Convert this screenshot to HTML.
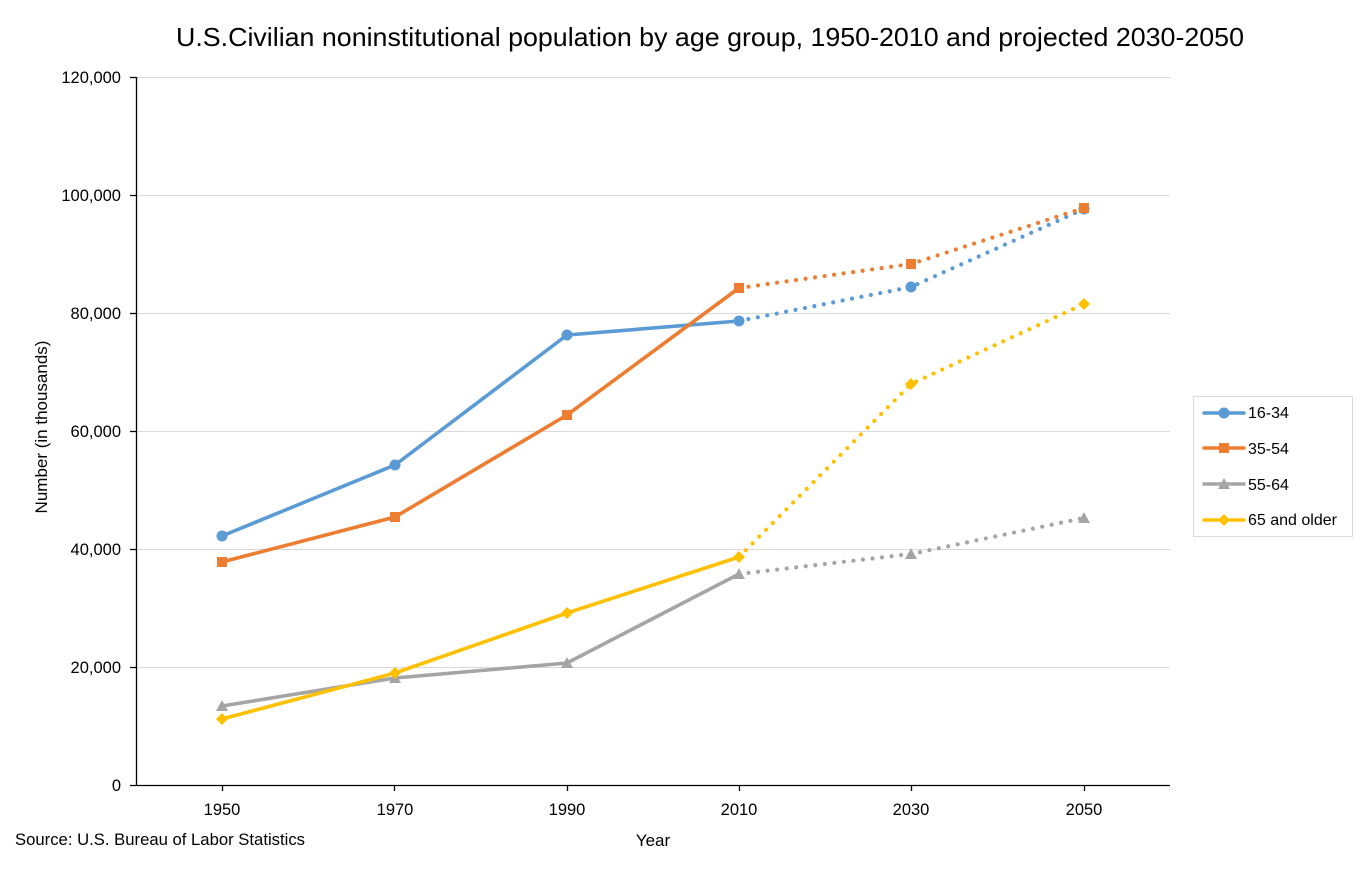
<!DOCTYPE html>
<html>
<head>
<meta charset="utf-8">
<style>
  html, body { margin:0; padding:0; background:#fff; }
  svg { display:block; }
  text { font-family: "Liberation Sans", "DejaVu Sans", sans-serif; fill:#000; }
</style>
</head>
<body>
<svg width="1365" height="879" viewBox="0 0 1365 879" xmlns="http://www.w3.org/2000/svg">
  <rect x="0" y="0" width="1365" height="879" fill="#fff"/>

  <!-- Title -->
  <text x="176" y="46" font-size="26" textLength="1068" lengthAdjust="spacingAndGlyphs">U.S.Civilian noninstitutional population by age group, 1950-2010 and projected 2030-2050</text>

  <!-- Gridlines -->
  <g stroke="#D9D9D9" stroke-width="1">
    <line x1="136" y1="77.5" x2="1170" y2="77.5"/>
    <line x1="136" y1="195.5" x2="1170" y2="195.5"/>
    <line x1="136" y1="313.5" x2="1170" y2="313.5"/>
    <line x1="136" y1="431.5" x2="1170" y2="431.5"/>
    <line x1="136" y1="549.5" x2="1170" y2="549.5"/>
    <line x1="136" y1="667.5" x2="1170" y2="667.5"/>
  </g>

  <!-- Axes -->
  <g stroke="#000" stroke-width="1.3">
    <line x1="136.5" y1="77" x2="136.5" y2="785"/>
    <line x1="130" y1="785.5" x2="1170" y2="785.5"/>
    <line x1="130" y1="77.5" x2="136" y2="77.5"/>
    <line x1="130" y1="195.5" x2="136" y2="195.5"/>
    <line x1="130" y1="313.5" x2="136" y2="313.5"/>
    <line x1="130" y1="431.5" x2="136" y2="431.5"/>
    <line x1="130" y1="549.5" x2="136" y2="549.5"/>
    <line x1="130" y1="667.5" x2="136" y2="667.5"/>
    <line x1="222.5" y1="785" x2="222.5" y2="791"/>
    <line x1="394.5" y1="785" x2="394.5" y2="791"/>
    <line x1="567.5" y1="785" x2="567.5" y2="791"/>
    <line x1="739.5" y1="785" x2="739.5" y2="791"/>
    <line x1="911.5" y1="785" x2="911.5" y2="791"/>
    <line x1="1084.5" y1="785" x2="1084.5" y2="791"/>
  </g>

  <!-- Y tick labels -->
  <g font-size="16.5" text-anchor="end">
    <text x="121" y="83">120,000</text>
    <text x="121" y="201">100,000</text>
    <text x="121" y="319">80,000</text>
    <text x="121" y="437">60,000</text>
    <text x="121" y="555">40,000</text>
    <text x="121" y="673">20,000</text>
    <text x="121" y="791">0</text>
  </g>

  <!-- X tick labels -->
  <g font-size="16.5" text-anchor="middle">
    <text x="222" y="815">1950</text>
    <text x="395" y="815">1970</text>
    <text x="567" y="815">1990</text>
    <text x="739" y="815">2010</text>
    <text x="911" y="815">2030</text>
    <text x="1084" y="815">2050</text>
  </g>

  <!-- Axis titles -->
  <text x="653" y="846" font-size="17" text-anchor="middle">Year</text>
  <text transform="translate(47,427) rotate(-90)" font-size="17" text-anchor="middle">Number (in thousands)</text>
  <text x="15" y="845" font-size="16.5" textLength="290" lengthAdjust="spacingAndGlyphs">Source: U.S. Bureau of Labor Statistics</text>

  <!-- Solid lines -->
  <g fill="none" stroke-width="3.6" stroke-linejoin="round" stroke-linecap="round">
    <polyline stroke="#5B9BD5" points="222,536 395,465 567,335 739,321"/>
    <polyline stroke="#ED7D31" points="222,562 395,517 567,415 739,288"/>
    <polyline stroke="#A5A5A5" points="222,706 395,678 567,663 739,574"/>
    <polyline stroke="#FFC000" points="222,719 395,673 567,613 739,557"/>
  </g>

  <!-- Dotted projected lines -->
  <g fill="none" stroke-width="4.2" stroke-linecap="round" stroke-dasharray="0 9.6">
    <polyline stroke="#5B9BD5" points="739,321 911,287 1084,209"/>
    <polyline stroke="#ED7D31" points="739,288 911,264 1084,208"/>
    <polyline stroke="#A5A5A5" points="739,574 911,554 1084,518"/>
    <polyline stroke="#FFC000" points="739,557 911,384 1084,304"/>
  </g>

  <!-- Markers: blue circles -->
  <g fill="#5B9BD5">
    <circle cx="222" cy="536" r="5.5"/>
    <circle cx="395" cy="465" r="5.5"/>
    <circle cx="567" cy="335" r="5.5"/>
    <circle cx="739" cy="321" r="5.5"/>
    <circle cx="911" cy="287" r="5.5"/>
    <circle cx="1084" cy="209" r="5.5"/>
  </g>
  <!-- orange squares -->
  <g fill="#ED7D31">
    <rect x="217" y="557" width="10" height="10"/>
    <rect x="390" y="512" width="10" height="10"/>
    <rect x="562" y="410" width="10" height="10"/>
    <rect x="734" y="283" width="10" height="10"/>
    <rect x="906" y="259" width="10" height="10"/>
    <rect x="1079" y="203" width="10" height="10"/>
  </g>
  <!-- gray triangles -->
  <g fill="#A5A5A5">
    <polygon points="222,700 228,711 216,711"/>
    <polygon points="395,672 401,683 389,683"/>
    <polygon points="567,657 573,668 561,668"/>
    <polygon points="739,568 745,579 733,579"/>
    <polygon points="911,548 917,559 905,559"/>
    <polygon points="1084,512 1090,523 1078,523"/>
  </g>
  <!-- yellow diamonds -->
  <g fill="#FFC000">
    <polygon points="222,713 228,719 222,725 216,719"/>
    <polygon points="395,667 401,673 395,679 389,673"/>
    <polygon points="567,607 573,613 567,619 561,613"/>
    <polygon points="739,551 745,557 739,563 733,557"/>
    <polygon points="911,378 917,384 911,390 905,384"/>
    <polygon points="1084,298 1090,304 1084,310 1078,304"/>
  </g>

  <!-- Legend -->
  <rect x="1193.5" y="396.5" width="159" height="140" fill="#fff" stroke="#D9D9D9" stroke-width="1"/>
  <g stroke-width="3.6" stroke-linecap="round">
    <line x1="1204" y1="413" x2="1244" y2="413" stroke="#5B9BD5"/>
    <line x1="1204" y1="448" x2="1244" y2="448" stroke="#ED7D31"/>
    <line x1="1204" y1="484" x2="1244" y2="484" stroke="#A5A5A5"/>
    <line x1="1204" y1="520" x2="1244" y2="520" stroke="#FFC000"/>
  </g>
  <circle cx="1224" cy="413" r="5.5" fill="#5B9BD5"/>
  <rect x="1219" y="443" width="10" height="10" fill="#ED7D31"/>
  <polygon points="1224,478 1230,489 1218,489" fill="#A5A5A5"/>
  <polygon points="1224,514 1230,520 1224,526 1218,520" fill="#FFC000"/>
  <g font-size="16" fill="#404040">
    <text x="1248" y="418" fill="#404040">16-34</text>
    <text x="1248" y="454" fill="#404040">35-54</text>
    <text x="1248" y="490" fill="#404040">55-64</text>
    <text x="1248" y="525" fill="#404040">65 and older</text>
  </g>
</svg>
</body>
</html>
